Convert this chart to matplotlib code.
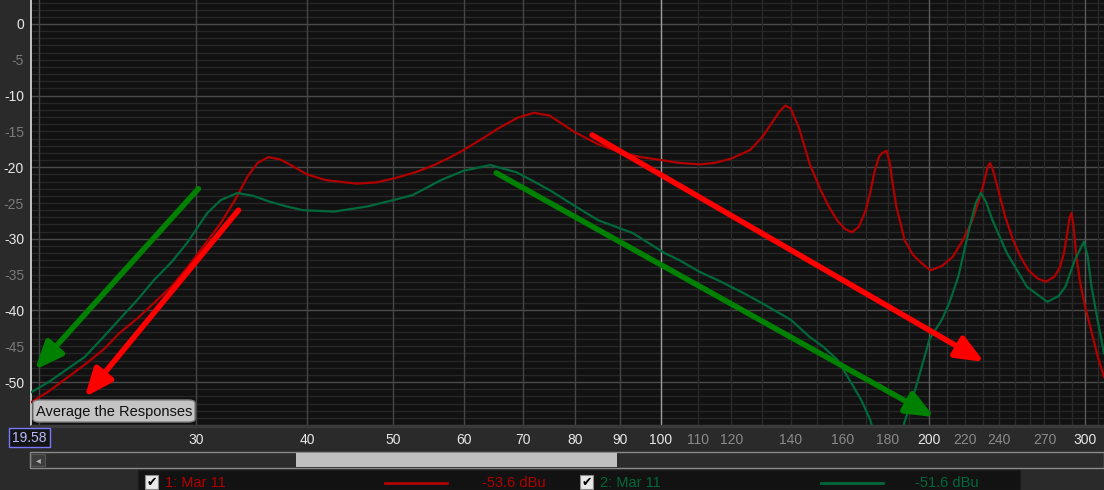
import matplotlib.pyplot as plt
from matplotlib.patches import Rectangle, FancyBboxPatch

plt.rcParams['font.family'] = ['Liberation Sans', 'DejaVu Sans']

# response 1 (red) - frequency in Hz, level in dBu
red_f = [19.6, 20.5, 21.5, 22.7, 23.7, 24.6, 25.8, 26.9, 28.2, 29.4, 30.7, 32.0, 33.2,
         34.3, 35.2, 36.2, 37.3, 38.5, 40.0, 42.0, 45.5, 48.0, 50.0, 53.0, 55.6, 58.0,
         60.0, 63.0, 65.6, 69.0, 72.0, 75.0, 80.0, 85.0, 90.0, 95.0, 100, 105, 110.5,
         115, 120, 126, 130, 133, 136, 138, 140, 143, 147, 151, 154.5, 158, 161, 164,
         167, 170, 172, 174, 176, 177.5, 179.4, 181, 182, 184, 188, 192, 196, 201, 207,
         213, 219, 224, 228, 231, 233, 234.5, 236, 239.6, 244, 249, 254, 259, 265, 271,
         277, 281, 284, 286, 288, 289.5, 291, 293, 296, 300, 305, 310, 315]
red_db = [-52.8, -51.3, -49.4, -47.2, -45.3, -43.2, -41.1, -39.0, -36.6, -33.9, -30.8,
          -27.8, -24.6, -21.3, -19.4, -18.6, -18.9, -19.8, -21.0, -21.8, -22.3, -22.1,
          -21.6, -20.7, -19.7, -18.6, -17.6, -16.0, -14.6, -13.1, -12.4, -12.8, -15.1,
          -16.8, -17.9, -18.6, -19.0, -19.4, -19.6, -19.4, -18.8, -17.6, -15.8, -14.0,
          -12.2, -11.4, -11.8, -14.5, -19.5, -23.0, -25.5, -27.5, -28.6, -29.1, -28.3,
          -26.0, -23.5, -20.5, -18.5, -18.0, -17.7, -19.5, -21.8, -25.5, -30.2, -32.2,
          -33.3, -34.4, -33.8, -32.5, -30.0, -27.4, -24.5, -22.0, -20.0, -19.4, -20.2,
          -23.2, -27.0, -30.2, -32.6, -34.4, -35.5, -36.0, -35.3, -34.0, -32.0, -29.7,
          -27.2, -26.4, -28.0, -32.0, -36.0, -39.5, -43.0, -46.5, -49.3]

# response 2 (green)
grn_f = [19.6, 20.5, 21.5, 22.5, 23.5, 24.6, 25.8, 26.9, 28.2, 29.4, 30.9, 32.0, 33.4,
         34.8, 36.3, 38.0, 39.6, 42.9, 46.7, 50.0, 52.6, 56.6, 60.0, 64.3, 68.8, 72.0,
         75.0, 80.0, 85.0, 93.0, 101, 105, 110.5, 116, 124, 130, 136, 140, 147, 152,
         158, 163, 168, 172, 176, 180, 184, 187.8, 193.6, 200.5, 207, 211, 216, 222,
         226, 229, 232, 236, 245, 258, 272, 280, 285, 292, 299, 302, 305, 310, 315]
grn_db = [-51.4, -50.0, -48.2, -46.5, -44.0, -41.3, -38.5, -35.8, -33.2, -30.4, -26.4,
          -24.6, -23.6, -24.0, -24.8, -25.5, -26.0, -26.2, -25.5, -24.6, -23.9, -21.8,
          -20.5, -19.7, -20.7, -22.0, -23.2, -25.4, -27.4, -29.2, -32.0, -33.0, -34.6,
          -35.8, -37.6, -39.0, -40.4, -41.3, -43.7, -45.0, -46.9, -49.7, -52.5, -55.3,
          -60.0, -66.0, -62.0, -55.7, -50.7, -44.0, -41.3, -39.0, -35.3, -28.8, -25.0,
          -23.6, -24.8, -27.4, -32.0, -36.7, -38.8, -38.0, -36.7, -33.0, -30.4, -32.5,
          -36.7, -41.5, -46.0]

# hand-drawn arrows: (start f, start dB, tip f, tip dB, colour)
arrows = [(30.2, -23.0, 19.77, -48.3, '#008000'),
          (33.5, -26.0, 22.5, -52.1, '#ff0000'),
          (65.3, -20.8, 203, -54.9, '#008000'),
          (83.7, -15.5, 231, -47.2, '#ff0000')]

xticks = [30, 40, 50, 60, 70, 80, 90, 100, 110, 120, 140, 160, 180, 200, 220, 240, 270, 300]
xbright = [30, 40, 50, 60, 70, 80, 90, 100, 200, 300]
yticks = list(range(0, -55, -5))

W, H = 1104, 490
fig = plt.figure(figsize=(W / 100, H / 100), dpi=100)
fig.patch.set_facecolor('#2a2a2a')


def box(x0, y0, x1, y1):
    # pixel box (top-left origin) -> figure fraction rect
    return (x0 / W, 1 - y1 / H, (x1 - x0) / W, (y1 - y0) / H)


ax = fig.add_axes(box(31, 0, 1104, 425))
ax.set_facecolor('#111111')
ax.set_xscale('log')
ax.set_xlim(19.58, 315)
ax.set_ylim(-56.0, 3.35)

# grid
for d in range(-56, 4):
    c = '#4a4a4a' if d % 10 == 0 else '#262626'
    ax.axhline(d, color=c, lw=1, zorder=1)
for f in list(range(20, 100, 10)) + list(range(100, 320, 10)):
    if f == 100:
        c = '#a0a0a0'
    elif f in (200, 300):
        c = '#5a5a5a'
    elif f <= 100:
        c = '#454545'
    else:
        c = '#2a2a2a'
    ax.axvline(f, color=c, lw=1, zorder=1)

ax.plot(red_f, red_db, color='#b00000', lw=1.6, zorder=3)
ax.plot(grn_f, grn_db, color='#00683a', lw=1.6, zorder=3)

for x0, y0, x1, y1, c in arrows:
    ax.annotate('', xy=(x1, y1), xytext=(x0, y0),
                arrowprops=dict(arrowstyle='-|>,head_length=1.2,head_width=0.5',
                                lw=4, color=c, mutation_scale=14, shrinkA=0, shrinkB=0),
                zorder=4)

ax.set_xticks(xticks)
ax.set_xticklabels([str(t) for t in xticks])
ax.minorticks_off()
for lbl, t in zip(ax.get_xticklabels(), xticks):
    lbl.set_color('#e8e8e8' if t in xbright else '#8a8a8a')
ax.set_yticks(yticks)
ax.set_yticklabels([str(t) for t in yticks])
for lbl, t in zip(ax.get_yticklabels(), yticks):
    lbl.set_color('#e8e8e8' if t % 10 == 0 else '#7a7a7a')
ax.tick_params(axis='both', length=0, labelsize=10)
ax.tick_params(axis='x', pad=6)
ax.tick_params(axis='y', pad=5)
for s in ['top', 'right', 'bottom']:
    ax.spines[s].set_visible(False)
ax.spines['left'].set_color('#e0e0e0')
ax.spines['left'].set_linewidth(1.2)

# x-axis band top edge
fig.patches.append(Rectangle(box(31, 425, 1104, 427)[:2], 1073 / W, 2 / H,
                             transform=fig.transFigure, color='#3a3a3a', zorder=0))

# start frequency box
fig.patches.append(Rectangle(box(9, 428, 50, 447)[:2], 41 / W, 19 / H, transform=fig.transFigure,
                             facecolor='#151515', edgecolor='#7878ff', lw=1, zorder=5))
fig.text(29.5 / W, 1 - 438 / H, '19.58', color='#b8b8ff', fontsize=10,
         ha='center', va='center', zorder=6)

# average button
fig.patches.append(FancyBboxPatch(box(33, 400, 195, 422)[:2], 162 / W, 22 / H,
                                  boxstyle='round,pad=0,rounding_size=0.006',
                                  transform=fig.transFigure, facecolor='#c4c4c4',
                                  edgecolor='#808080', lw=1, zorder=5))
fig.text(114 / W, 1 - 412 / H, 'Average the Responses', color='#111111', fontsize=10.5,
         ha='center', va='center', zorder=6)

# scrollbar
fig.patches.append(Rectangle(box(30, 452, 1104, 468)[:2], 1074 / W, 16 / H,
                             transform=fig.transFigure, facecolor='#2c2c2c',
                             edgecolor='#8a8a8a', lw=1, zorder=5))
fig.patches.append(Rectangle(box(31, 454, 45, 466)[:2], 14 / W, 12 / H,
                             transform=fig.transFigure, facecolor='#3c3c3c',
                             edgecolor='#555555', lw=0.8, zorder=6))
fig.text(38 / W, 1 - 460 / H, '◂', color='#b0b0b0', fontsize=7,
         ha='center', va='center', zorder=7, family='DejaVu Sans')
fig.patches.append(Rectangle(box(296, 453, 617, 467)[:2], 321 / W, 14 / H,
                             transform=fig.transFigure, facecolor='#c0c0c0', zorder=6))

# legend strip
fig.patches.append(Rectangle(box(138, 470, 1020, 490)[:2], 882 / W, 20 / H,
                             transform=fig.transFigure, facecolor='#121212',
                             edgecolor='#1c1c1c', lw=1, zorder=5))
legend = [(145, '1: Mar 11', '#b00000', 385, 447, '-53.6 dBu', 482),
          (580, '2: Mar 11', '#00683a', 821, 883, '-51.6 dBu', 915)]
for cx, name, col, l0, l1, val, vx in legend:
    fig.patches.append(Rectangle(box(cx, 475, cx + 13, 489)[:2], 13 / W, 14 / H,
                                 transform=fig.transFigure, facecolor='#e8e8e8',
                                 edgecolor='#888888', lw=0.8, zorder=6))
    fig.text((cx + 6.5) / W, 1 - 482 / H, '✔', color='#000000', fontsize=9,
             ha='center', va='center', zorder=7, family='DejaVu Sans')
    fig.text((cx + 20) / W, 1 - 483 / H, name, color=col, fontsize=10.5,
             ha='left', va='center', zorder=7)
    fig.lines.append(plt.Line2D([l0 / W, l1 / W], [1 - 483 / H, 1 - 483 / H],
                                transform=fig.transFigure, color=col, lw=2, zorder=7))
    fig.text(vx / W, 1 - 483 / H, val, color=col, fontsize=10.5,
             ha='left', va='center', zorder=7)

fig.savefig('out.png', dpi=100, facecolor=fig.get_facecolor())
